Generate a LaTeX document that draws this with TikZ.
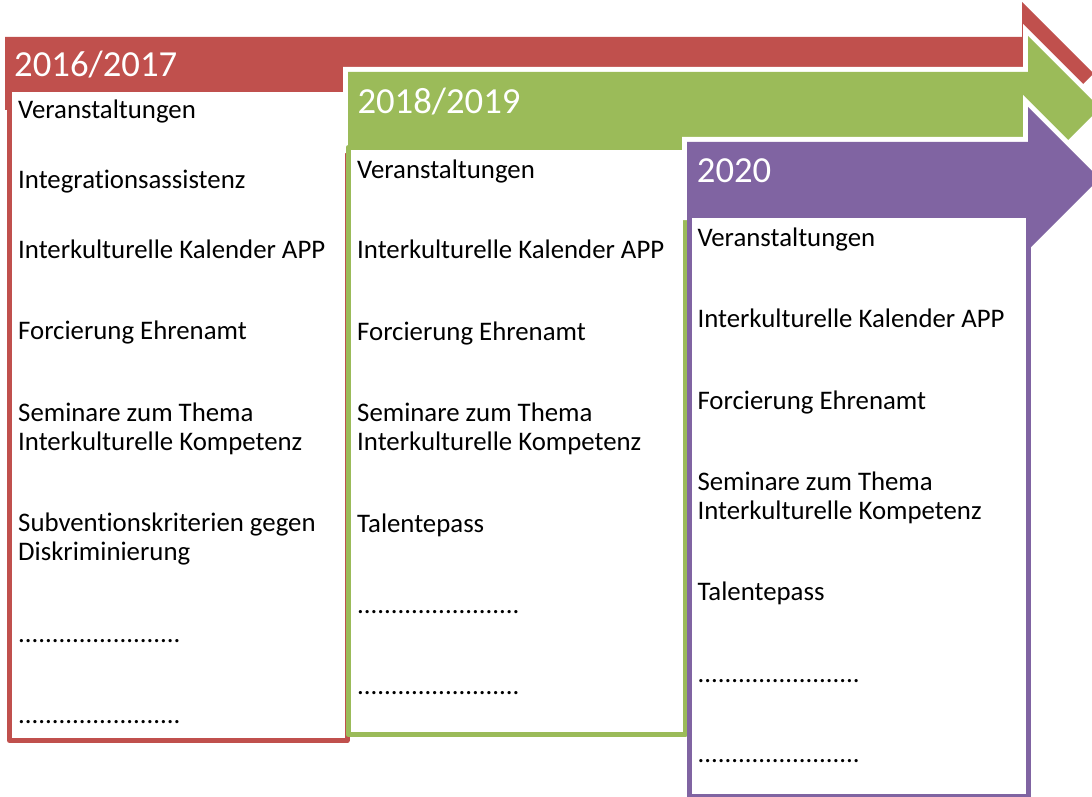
\documentclass[tikz,border=0pt]{standalone}
\usepackage{fontspec}
\setmainfont{Carlito}[Ligatures={NoCommon}]
\definecolor{cred}{HTML}{C0504D}
\definecolor{cgreen}{HTML}{9BBB59}
\definecolor{cpurple}{HTML}{8064A2}
\tikzset{
  halo/.style={draw=white, line width=10pt, line join=miter},
  box/.style={line width=5pt, fill=white, line join=round},
  year/.style={anchor=base west, inner sep=0pt, text=white, font=\fontsize{36.7}{40}\selectfont},
  item/.style={anchor=base west, inner sep=0pt, text=black, font=\fontsize{26.8}{29}\selectfont}
}
\newcommand{\dotline}{........................}
\begin{document}
\begin{tikzpicture}[x=1pt,y=-1pt]
\useasboundingbox (0,0) rectangle (1092,797);
\clip (0,0) rectangle (1092,797);
% red
\path[halo] (5,37) -- (1022,37) -- (1022,2) -- (1093.5,73.5) -- (1022,145) -- (1022,110) -- (5,110) -- cycle;
\fill[cred] (5,37) -- (1022,37) -- (1022,2) -- (1093.5,73.5) -- (1022,145) -- (1022,110) -- (5,110) -- cycle;
\draw[box, draw=cred] (9.5,89.5) rectangle (347,740.5);
% green
\path[halo] (348,72) -- (1028,72) -- (1028,36) -- (1100,108) -- (1028,180) -- (1028,144) -- (686,144) -- (686,148) -- (348,148) -- cycle;
\fill[cgreen] (348,72) -- (1028,72) -- (1028,36) -- (1100,108) -- (1028,180) -- (1028,144) -- (686,144) -- (686,148) -- (348,148) -- cycle;
\draw[box, draw=cgreen] (348,147.5) rectangle (685.5,734.5);
% purple
\path[halo] (687,142) -- (1028,142) -- (1028,107) -- (1099.5,178.5) -- (1028,250) -- (1028,215) -- (687,215) -- cycle;
\fill[cpurple] (687,142) -- (1028,142) -- (1028,107) -- (1099.5,178.5) -- (1028,250) -- (1028,215) -- (687,215) -- cycle;
\draw[box, draw=cpurple] (689.2,215.5) rectangle (1028.5,796.5);
% years
\node[year] (y1) at (14,76.7) {2016/2017};
\node[year] (y2) at (357.3,113.3) {2018/2019};
\node[year] (y3) at (696.7,182.7) {2020};
% red items
\node[item] (r1) at (18,118.3) {Veranstaltungen};
\node[item] (r2) at (18,188.5) {Integrationsassistenz};
\node[item] (r3) at (18,258.3) {Interkulturelle Kalender APP};
\node[item] (r4) at (18,339.5) {Forcierung Ehrenamt};
\node[item] (r5) at (18,421.5) {Seminare zum Thema};
\node[item] (r6) at (18,450) {Interkulturelle Kompetenz};
\node[item] (r7) at (18,531.5) {Subventionskriterien gegen};
\node[item] (r8) at (18,560) {Diskriminierung};
\node[item] (r9) at (18,642.5) {\dotline};
\node[item] (r10) at (18,723.8) {\dotline};
% green items
\node[item] (g1) at (357,178.3) {Veranstaltungen};
\node[item] (g2) at (357,258.3) {Interkulturelle Kalender APP};
\node[item] (g3) at (357,340.3) {Forcierung Ehrenamt};
\node[item] (g4) at (357,421.5) {Seminare zum Thema};
\node[item] (g5) at (357,450) {Interkulturelle Kompetenz};
\node[item] (g6) at (357,532) {Talentepass};
\node[item] (g7) at (357,613.5) {\dotline};
\node[item] (g8) at (357,694.5) {\dotline};
% purple items
\node[item] (p1) at (697.3,246.3) {Veranstaltungen};
\node[item] (p2) at (697.3,327.3) {Interkulturelle Kalender APP};
\node[item] (p3) at (697.3,409.3) {Forcierung Ehrenamt};
\node[item] (p4) at (697.3,490) {Seminare zum Thema};
\node[item] (p5) at (697.3,519.3) {Interkulturelle Kompetenz};
\node[item] (p6) at (697.3,600.5) {Talentepass};
\node[item] (p7) at (697.3,682) {\dotline};
\node[item] (p8) at (697.3,762.5) {\dotline};
\end{tikzpicture}
\end{document}
